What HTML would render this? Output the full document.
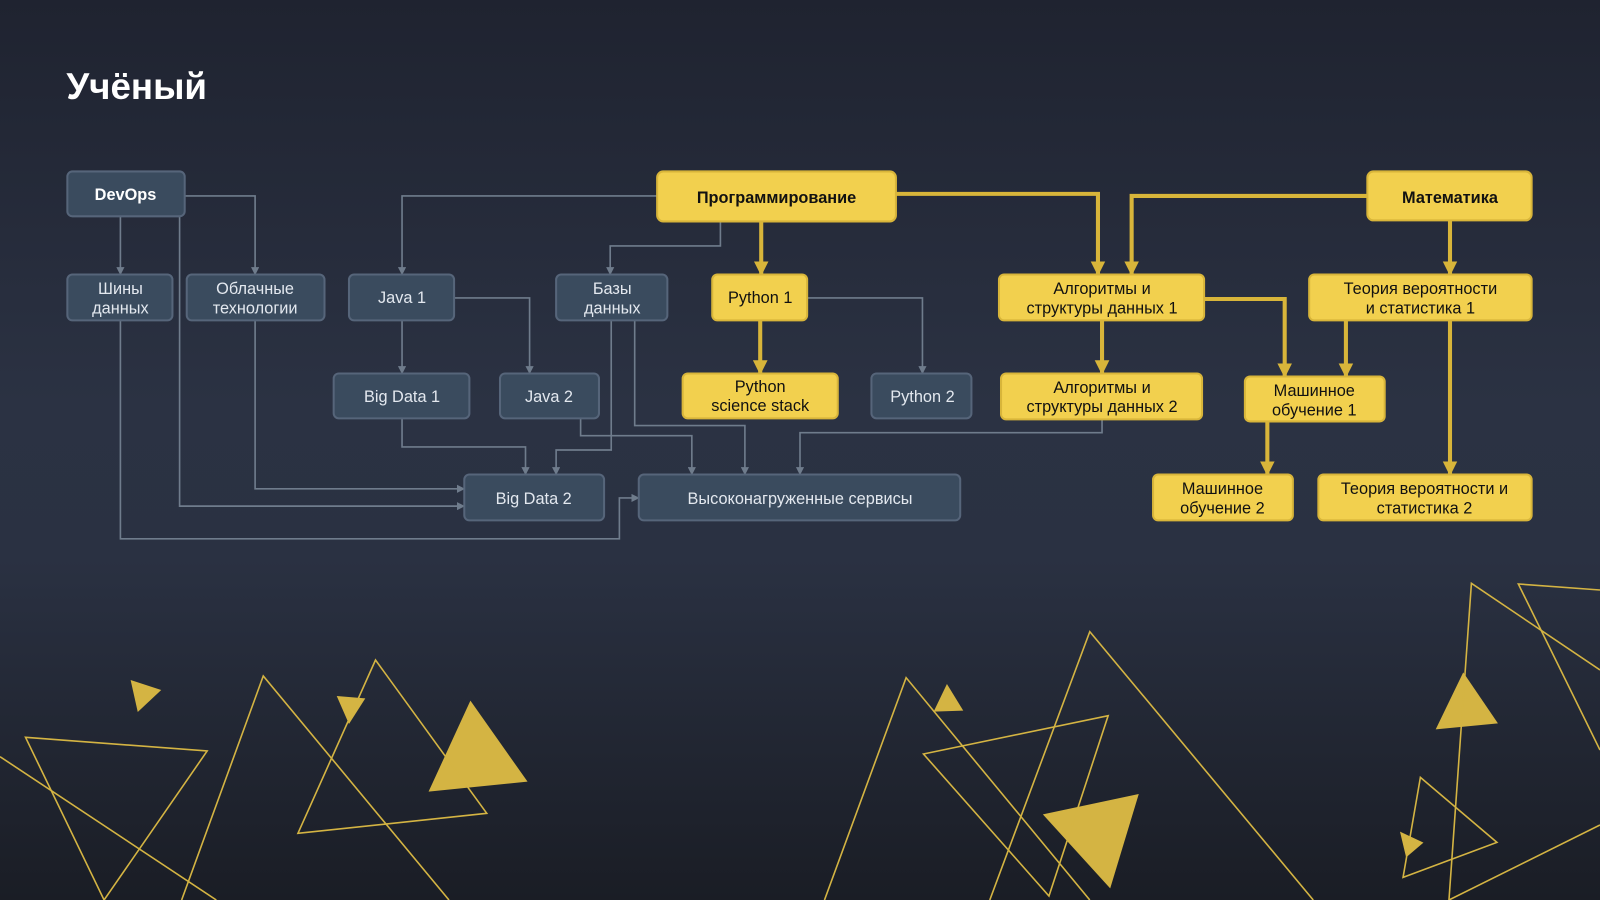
<!DOCTYPE html>
<html><head><meta charset="utf-8"><style>
html,body{margin:0;padding:0;width:1600px;height:900px;overflow:hidden;}
body{background:linear-gradient(180deg,#1f2330 0%,#2b3243 45%,#2a3142 62%,#1a1d25 100%);font-family:"Liberation Sans","DejaVu Sans",sans-serif;}
svg{position:absolute;left:0;top:0}
text{font-family:"Liberation Sans","DejaVu Sans",sans-serif;}
</style></head><body>
<svg width="1600" height="900" viewBox="0 0 1600 900">
<g transform="translate(0,580) scale(1.0204,0.33333)" fill="#d4b443" stroke="none">
<polygon points="128,300 158,330 135,396"/>
<polygon points="330,348 358,355 342,432"/>
<polygon points="461,362 517,605 420,635"/>
<polygon points="928,312 944,392 915,395"/>
<polygon points="1116,642 1088,925 1022,703"/>
<polygon points="1434,277 1468,430 1407,448"/>
<polygon points="1372,755 1395,788 1378,832"/>
<g fill="none" stroke="#d4b443" stroke-width="1.6" vector-effect="non-scaling-stroke">
<polyline vector-effect="non-scaling-stroke" points="102,960 25,472 203,513 102,960"/>
<line vector-effect="non-scaling-stroke" x1="0" y1="530" x2="212" y2="960"/>
<polyline vector-effect="non-scaling-stroke" points="178,960 258,288 440,960"/>
<polygon vector-effect="non-scaling-stroke" points="368,240 477,700 292,760"/>
<polyline vector-effect="non-scaling-stroke" points="808,960 888,293 1068,960"/>
<polyline vector-effect="non-scaling-stroke" points="970,960 1068,155 1287,960"/>
<polygon vector-effect="non-scaling-stroke" points="905,522 1086,407 1028,948"/>
<polyline vector-effect="non-scaling-stroke" points="1420,960 1442,10 1568,270"/>
<polyline vector-effect="non-scaling-stroke" points="1568,30 1488,12 1568,510"/>
<polygon vector-effect="non-scaling-stroke" points="1392,592 1467,787 1375,892"/>
<line vector-effect="non-scaling-stroke" x1="1568" y1="735" x2="1420" y2="960"/>
</g></g>
</svg>
<svg width="1600" height="900" viewBox="0 0 1568 882">
<defs>
<marker id="ag" viewBox="0 0 10 10" refX="9" refY="5" markerWidth="5" markerHeight="5" orient="auto"><path d="M0,0L10,5L0,10z" fill="#6f7c8c"/></marker>
<marker id="ay" viewBox="0 0 10 10" refX="9" refY="5" markerWidth="3.6" markerHeight="3.6" orient="auto"><path d="M0,0L10,5L0,10z" fill="#d8b53a"/></marker>
</defs>
<text x="65" y="97" fill="#fff" font-size="36" font-weight="bold">Учёный</text>
<g fill="none" stroke="#6f7c8c" stroke-width="1.6" marker-end="url(#ag)">
<polyline points="118,212 118,269"/>
<polyline points="181,192 250,192 250,269"/>
<polyline points="176,212 176,496 455,496"/>
<polyline points="250,314 250,479 455,479"/>
<polyline points="118,314 118,528 607,528 607,488 626,488"/>
<polyline points="644,192 394,192 394,269"/>
<polyline points="706,217 706,241 598,241 598,269"/>
<polyline points="394,314 394,366"/>
<polyline points="445,292 519,292 519,366"/>
<polyline points="394,410 394,438 515,438 515,465"/>
<polyline points="599,314 599,441 545,441 545,465"/>
<polyline points="622,314 622,417 730,417 730,465"/>
<polyline points="569,410 569,427 678,427 678,465"/>
<polyline points="1080,411 1080,424 784,424 784,465"/>
<polyline points="791,292 904,292 904,366"/>
</g>
<g fill="none" stroke="#d8b53a" stroke-width="4" marker-end="url(#ay)">
<polyline points="746,217 746,269"/>
<polyline points="745,314 745,366"/>
<polyline points="878,190 1076,190 1076,269"/>
<polyline points="1340,192 1109,192 1109,269"/>
<polyline points="1421,216 1421,269"/>
<polyline points="1080,314 1080,366"/>
<polyline points="1180,293 1259,293 1259,369"/>
<polyline points="1319,314 1319,369"/>
<polyline points="1421,314 1421,465"/>
<polyline points="1242,413 1242,465"/>
</g>
<g stroke-width="2">
<g fill="#3a4b5e" stroke="#56657a">
<rect x="66" y="168" width="115" height="44" rx="5"/>
<rect x="66" y="269" width="103" height="45" rx="5"/>
<rect x="183" y="269" width="135" height="45" rx="5"/>
<rect x="342" y="269" width="103" height="45" rx="5"/>
<rect x="545" y="269" width="109" height="45" rx="5"/>
<rect x="327" y="366" width="133" height="44" rx="5"/>
<rect x="490" y="366" width="97" height="44" rx="5"/>
<rect x="455" y="465" width="137" height="45" rx="5"/>
<rect x="626" y="465" width="315" height="45" rx="5"/>
<rect x="854" y="366" width="98" height="44" rx="5"/>
</g>
<g fill="#f2d04e" stroke="#d8b53a">
<rect x="644" y="168" width="234" height="49" rx="6"/>
<rect x="1340" y="168" width="161" height="48" rx="6"/>
<rect x="698" y="269" width="93" height="45" rx="5"/>
<rect x="669" y="366" width="152" height="44" rx="5"/>
<rect x="979" y="269" width="201" height="45" rx="5"/>
<rect x="981" y="366" width="197" height="45" rx="5"/>
<rect x="1283" y="269" width="218" height="45" rx="5"/>
<rect x="1220" y="369" width="137" height="44" rx="5"/>
<rect x="1130" y="465" width="137" height="45" rx="5"/>
<rect x="1292" y="465" width="209" height="45" rx="5"/>
</g></g>
<g fill="#e3e8ef" font-size="16" text-anchor="middle">
<text x="123" y="196" font-weight="bold" fill="#fff">DevOps</text>
<text x="118" y="288">Шины</text><text x="118" y="307">данных</text>
<text x="250" y="288">Облачные</text><text x="250" y="307">технологии</text>
<text x="394" y="297">Java 1</text>
<text x="600" y="288">Базы</text><text x="600" y="307">данных</text>
<text x="394" y="394">Big Data 1</text>
<text x="538" y="394">Java 2</text>
<text x="523" y="494">Big Data 2</text>
<text x="784" y="494">Высоконагруженные сервисы</text>
<text x="904" y="394">Python 2</text>
</g>
<g fill="#111" font-size="16" text-anchor="middle">
<text x="761" y="199" font-weight="bold">Программирование</text>
<text x="1421" y="199" font-weight="bold">Математика</text>
<text x="745" y="297">Python 1</text>
<text x="745" y="384">Python</text><text x="745" y="403">science stack</text>
<text x="1080" y="288">Алгоритмы и</text><text x="1080" y="307">структуры данных 1</text>
<text x="1080" y="385">Алгоритмы и</text><text x="1080" y="404">структуры данных 2</text>
<text x="1392" y="288">Теория вероятности</text><text x="1392" y="307">и статистика 1</text>
<text x="1288" y="388">Машинное</text><text x="1288" y="407">обучение 1</text>
<text x="1198" y="484">Машинное</text><text x="1198" y="503">обучение 2</text>
<text x="1396" y="484">Теория вероятности и</text><text x="1396" y="503">статистика 2</text>
</g>
</svg>
</body></html>
